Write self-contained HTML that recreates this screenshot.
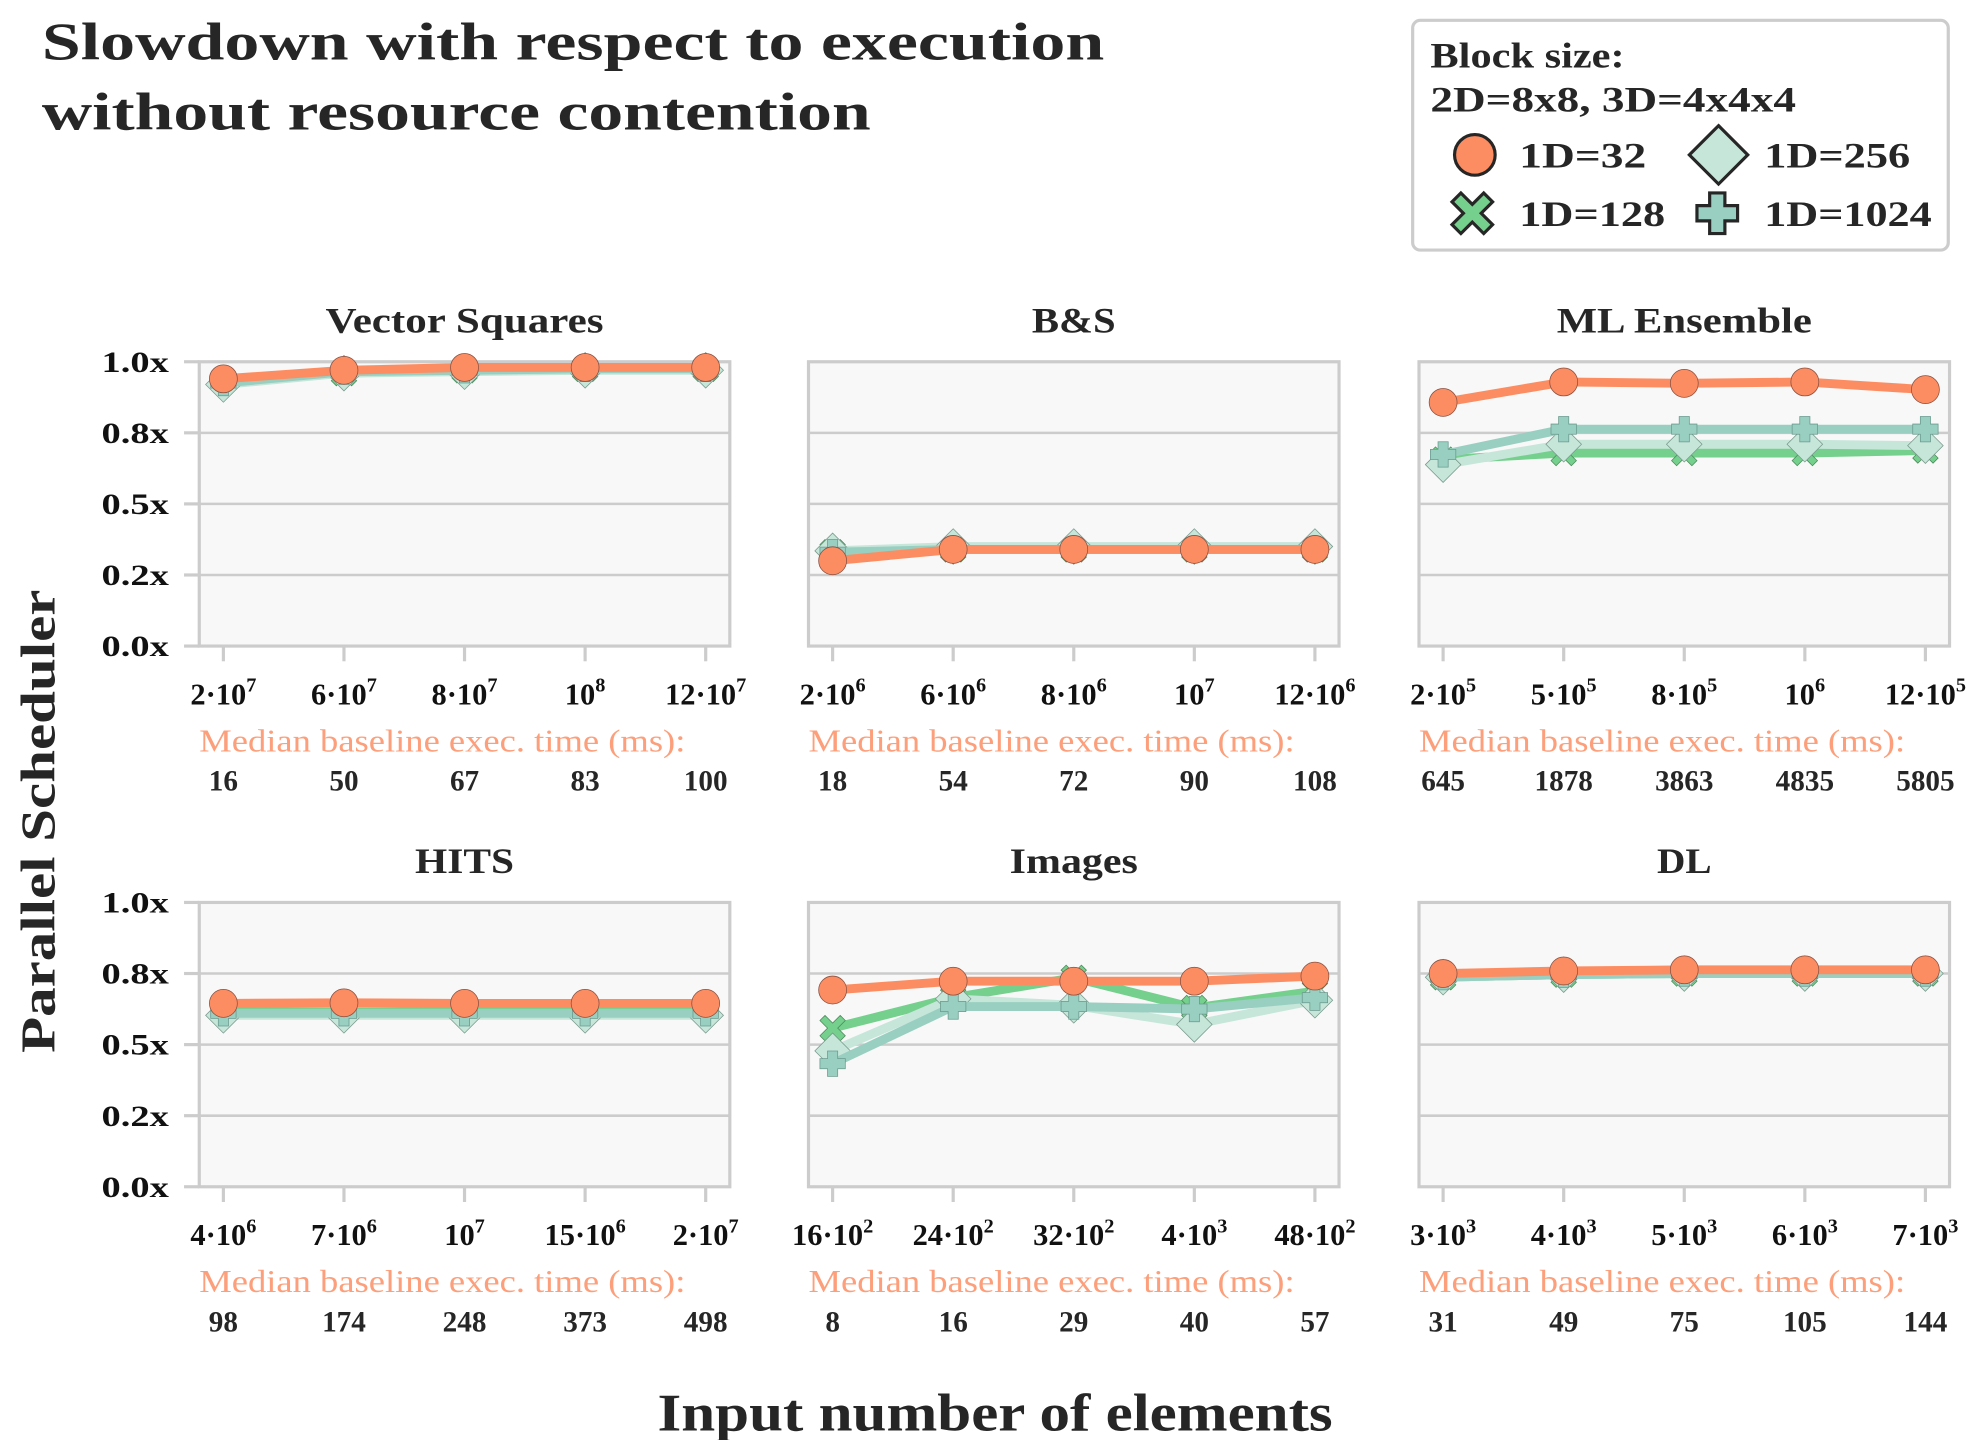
<!DOCTYPE html>
<html><head><meta charset="utf-8">
<style>
html,body{margin:0;padding:0;background:#fff;}
svg{display:block;font-family:"Liberation Serif","DejaVu Serif",serif;}
</style></head>
<body>
<svg id="fig" width="1980" height="1440" viewBox="0 0 1560 1134.5" xmlns="http://www.w3.org/2000/svg">
<text x="33" y="47" font-size="42" font-weight="bold" fill="#262626" textLength="837" lengthAdjust="spacingAndGlyphs">Slowdown with respect to execution</text>
<text x="33" y="102" font-size="42" font-weight="bold" fill="#262626" textLength="653" lengthAdjust="spacingAndGlyphs">without resource contention</text>
<g>
<rect x="1113" y="16" width="422" height="181" rx="6" fill="#fff" stroke="#cccccc" stroke-width="2.5"/>
<text x="1127" y="53" font-size="28" font-weight="bold" fill="#262626" textLength="153" lengthAdjust="spacingAndGlyphs">Block size:</text>
<text x="1127" y="88" font-size="28" font-weight="bold" fill="#262626" textLength="288" lengthAdjust="spacingAndGlyphs">2D=8x8, 3D=4x4x4</text>
<g><circle cx="1162" cy="122" r="16" fill="#fc8d62" stroke="#262626" stroke-width="2.5"/><text x="1197" y="132" font-size="28" font-weight="bold" fill="#262626" textLength="100" lengthAdjust="spacingAndGlyphs">1D=32</text></g>
<g><polygon points="1354,99 1377,122 1354,145 1331,122" fill="#c6e6da" stroke="#262626" stroke-width="2.5"/><text x="1390" y="132" font-size="28" font-weight="bold" fill="#262626" textLength="115" lengthAdjust="spacingAndGlyphs">1D=256</text></g>
<g><path d="M1151,152 L1160,161 L1169,152 L1176,159 L1167,168 L1176,177 L1169,184 L1160,175 L1151,184 L1144,177 L1153,168 L1144,159 Z" fill="#74d08c" stroke="#262626" stroke-width="2.5"/><text x="1197" y="178" font-size="28" font-weight="bold" fill="#262626" textLength="115" lengthAdjust="spacingAndGlyphs">1D=128</text></g>
<g><path d="M1347,152 h12 v10 h10 v12 h-10 v10 h-12 v-10 h-10 v-12 h10 z" fill="#99cfc0" stroke="#262626" stroke-width="2.5"/><text x="1390" y="178" font-size="28" font-weight="bold" fill="#262626" textLength="132" lengthAdjust="spacingAndGlyphs">1D=1024</text></g>
</g>
<text transform="translate(43,647) rotate(-90)" text-anchor="middle" font-size="38" font-weight="bold" fill="#262626" textLength="365" lengthAdjust="spacingAndGlyphs">Parallel Scheduler</text>
<text x="784" y="1127" text-anchor="middle" font-size="42" font-weight="bold" fill="#262626" textLength="532" lengthAdjust="spacingAndGlyphs">Input number of elements</text>
<g id="panels"></g>
</svg>
<script>
const panelTitles = ["Vector Squares","B&S","ML Ensemble","HITS","Images","DL"];
const xTickBase = [["2","6","8","","12"],["2","6","8","","12"],["2","5","8","","12"],["4","7","","15","2"],["16","24","32","4","48"],["3","4","5","6","7"]];
const xTickExp = [["7","7","7","8","7"],["6","6","6","7","6"],["5","5","5","6","5"],["6","6","7","6","7"],["2","2","2","3","2"],["3","3","3","3","3"]];
const baselineTimes = [["16","50","67","83","100"],["18","54","72","90","108"],["645","1878","3863","4835","5805"],["98","174","248","373","498"],["8","16","29","40","57"],["31","49","75","105","144"]];
const yTicks = [0,0.25,0.5,0.75,1.0];
const yTickLabels = ["0.0x","0.2x","0.5x","0.8x","1.0x"];
const seriesNames = ["1D=128","1D=256","1D=1024","1D=32"];
const s128 = [[0.93,0.96,0.97,0.975,0.975],[0.33,0.34,0.34,0.34,0.34],[0.656,0.679,0.679,0.679,0.688],[0.615,0.615,0.615,0.615,0.615],[0.558,0.665,0.735,0.629,0.688],[0.737,0.746,0.75,0.75,0.75]];
const s256 = [[0.92,0.96,0.965,0.97,0.97],[0.335,0.35,0.35,0.35,0.35],[0.638,0.71,0.71,0.71,0.705],[0.603,0.603,0.603,0.603,0.603],[0.478,0.661,0.638,0.571,0.656],[0.737,0.746,0.75,0.75,0.75]];
const s1024 = [[0.925,0.965,0.97,0.975,0.975],[0.33,0.34,0.34,0.34,0.34],[0.674,0.763,0.763,0.763,0.763],[0.61,0.61,0.61,0.61,0.61],[0.433,0.634,0.634,0.625,0.665],[0.737,0.746,0.75,0.75,0.75]];
const s32 = [[0.94,0.97,0.98,0.98,0.98],[0.30,0.34,0.34,0.34,0.34],[0.857,0.929,0.924,0.929,0.902],[0.645,0.647,0.645,0.645,0.645],[0.692,0.723,0.723,0.723,0.741],[0.75,0.759,0.763,0.763,0.763]];

const titleWidths=[219,66,201,78,101,43];
const NS="http://www.w3.org/2000/svg";
const root=document.getElementById('panels');
const colX=[157,637,1118], rowY=[285,711], PW=418, PH=224;
function mk(tag,attrs,parent){const e=document.createElementNS(NS,tag);for(const k in attrs)e.setAttribute(k,attrs[k]);parent.appendChild(e);return e;}
const styles=[
 {data:s128,color:"#74d08c",marker:"x"},
 {data:s256,color:"#c6e6da",marker:"d"},
 {data:s1024,color:"#99cfc0",marker:"p"},
 {data:s32,color:"#fc8d62",marker:"o"}];
for(let p=0;p<6;p++){
  const ox=colX[p%3], oy=rowY[Math.floor(p/3)];
  const xs=i=>ox+19+i*(PW-38)/4;
  const ys=v=>oy+PH-v*PH;
  const g=mk('g',{},root);
  
  
  mk('rect',{x:ox,y:oy,width:PW,height:PH,fill:'#f8f8f8',stroke:'none'},g);
  yTicks.forEach((t,i)=>{
    mk('line',{x1:ox,x2:ox+PW,y1:ys(t),y2:ys(t),stroke:'#cccccc','stroke-width':2},g);
    if(p%3===0){
      mk('line',{x1:ox-12,x2:ox,y1:ys(t),y2:ys(t),stroke:'#cccccc','stroke-width':2.5},g);
      const tx=mk('text',{x:ox-24,y:ys(t)+8,'text-anchor':'end','font-size':23,'font-weight':'bold',fill:'#111',textLength:53,lengthAdjust:'spacingAndGlyphs'},g);tx.textContent=yTickLabels[i];
      
      }
  });
  mk('rect',{x:ox,y:oy,width:PW,height:PH,fill:'none',stroke:'#cccccc','stroke-width':2.5},g);
  const tt=mk('text',{x:ox+PW/2,y:oy-23,'text-anchor':'middle','font-size':28,'font-weight':'bold',fill:'#262626',textLength:titleWidths[p],lengthAdjust:'spacingAndGlyphs'},g);
  tt.textContent=panelTitles[p];
  
  
  for(let i=0;i<5;i++){
    mk('line',{x1:xs(i),x2:xs(i),y1:oy+PH,y2:oy+PH+12,stroke:'#cccccc','stroke-width':2.5},g);
    const lb=mk('text',{x:xs(i),y:oy+PH+46,'text-anchor':'middle','font-size':24,'font-weight':'bold',fill:'#111'},g);
    
    
    const b=xTickBase[p][i];
    const t1=document.createElementNS(NS,'tspan');t1.textContent=(b?b+'\u00B7':'')+'10';lb.appendChild(t1);
    const t2=document.createElementNS(NS,'tspan');t2.textContent=xTickExp[p][i];t2.setAttribute('font-size','16');t2.setAttribute('dy','-10');lb.appendChild(t2);
    const nb=mk('text',{x:xs(i),y:oy+PH+114,'text-anchor':'middle','font-size':23,'font-weight':'bold',fill:'#262626'},g);
    nb.textContent=baselineTimes[p][i];
    
    
  }
  const md=mk('text',{x:ox,y:oy+PH+83,'font-size':25,fill:'#fc9f7a',textLength:383,lengthAdjust:'spacingAndGlyphs'},g);
  md.textContent='Median baseline exec. time (ms):';
  
  
  styles.forEach((s,si)=>{
    const vals=s.data[p];
    const sg=mk('g',{},g);
    
    
    mk('polyline',{points:vals.map((v,i)=>xs(i)+','+ys(v)).join(' '),fill:'none',stroke:s.color,'stroke-width':7,'stroke-linejoin':'round'},sg);
    vals.forEach((v,i)=>{
      const cx=xs(i),cy=ys(v);let m;
      if(s.marker==='o') m=mk('circle',{cx:cx,cy:cy,r:11,fill:s.color,stroke:'#8a5040','stroke-width':0.6},sg);
      else if(s.marker==='d') m=mk('polygon',{points:`${cx},${cy-14} ${cx+14},${cy} ${cx},${cy+14} ${cx-14},${cy}`,fill:s.color,stroke:'#7a9a8e','stroke-width':0.6},sg);
      else if(s.marker==='p') m=mk('path',{d:`M${cx-4},${cy-10} h8 v6 h6 v8 h-6 v6 h-8 v-6 h-6 v-8 h6 z`,fill:s.color,stroke:'#6a9a8e','stroke-width':0.6},sg);
      else m=mk('path',{d:`M${cx-6},${cy-10} L${cx},${cy-4} L${cx+6},${cy-10} L${cx+10},${cy-6} L${cx+4},${cy} L${cx+10},${cy+6} L${cx+6},${cy+10} L${cx},${cy+4} L${cx-6},${cy+10} L${cx-10},${cy+6} L${cx-4},${cy} L${cx-10},${cy-6} Z`,fill:s.color,stroke:'#4a8a5a','stroke-width':0.6},sg);
      
      
    });
  });
}
</script>
</body></html>
